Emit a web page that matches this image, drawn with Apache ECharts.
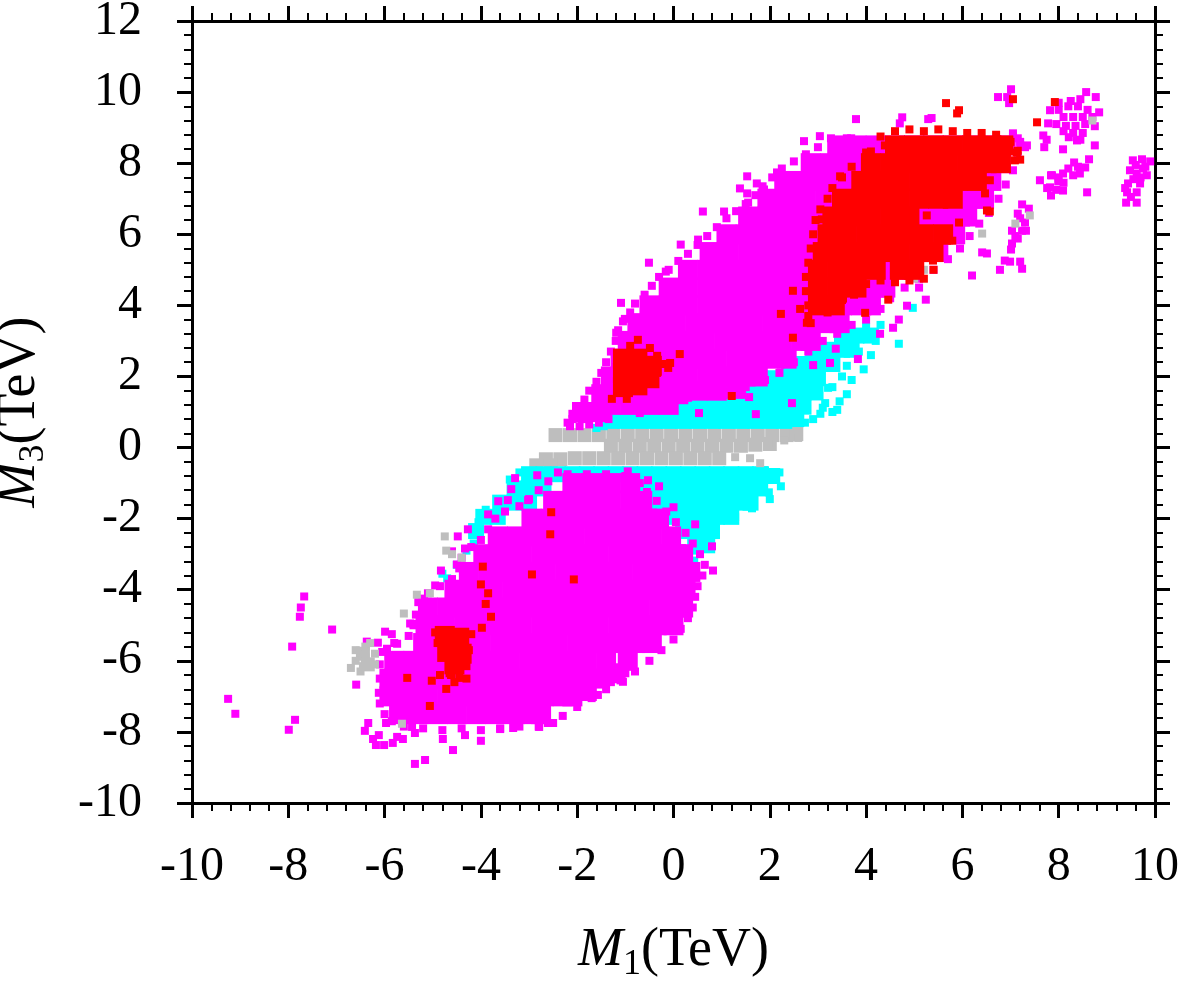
<!DOCTYPE html>
<html>
<head>
<meta charset="UTF-8">
<title>M1 vs M3</title>
<script src="https://cdn.jsdelivr.net/npm/echarts@6/dist/echarts.min.js"></script>
<style>
  html, body { margin: 0; padding: 0; background: #fff; }
  #container { width: 1183px; height: 984px; }
</style>
</head>
<body>
<div id="container"></div>
<script type="text/javascript">
// axis ticks
var xTicks = [-10, -8, -6, -4, -2, 0, 2, 4, 6, 8, 10];
var yTicks = [-10, -8, -6, -4, -2, 0, 2, 4, 6, 8, 10, 12];

// gray points: dense band around M3 = 0
var grayCore = [
  [-2.45,0.35],[-2.15,0.35],[-1.85,0.35],[-1.55,0.35],[-1.25,0.35],[-0.95,0.35],[-0.65,0.35],[-0.35,0.35],[-0.05,0.35],
  [0.25,0.35],[0.55,0.35],[0.85,0.35],[1.15,0.35],[1.45,0.35],[1.75,0.35],[2.05,0.35],[2.35,0.35],[2.55,0.38],
  [-1.3,0.05],[-1.0,0.05],[-0.7,0.05],[-0.4,0.05],[-0.1,0.05],[0.2,0.05],[0.5,0.05],[0.8,0.05],[1.1,0.05],[1.4,0.05],[1.7,0.08],[2.0,0.1],
  [-2.65,-0.33],[-2.35,-0.33],[-2.05,-0.3],[-1.75,-0.3],[-1.45,-0.3],[-1.15,-0.3],[-0.85,-0.3],[-0.55,-0.3],[-0.25,-0.3],
  [0.05,-0.3],[0.35,-0.3],[0.65,-0.3],[0.95,-0.3],
  [-2.85,-0.5],[-2.55,-0.5],
  [-6.45,-5.8],[-6.35,-6.1]
];
// gray scattered points
var grayPts = [
  [1.28,-0.27],[1.59,-0.3],[1.8,-0.44],[2.59,0.27],[1.98,0.1],[2.3,0.2],[2.6,0.45],
  [-6.6,-5.7],[-6.4,-5.6],[-6.6,-6.0],[-6.4,-5.9],[-6.2,-5.8],[-6.7,-6.2],[-6.5,-6.3],[-6.2,-6.1],[-6.3,-5.5],[-6.45,-6.15],
  [-4.72,-2.9],[-4.6,-3.0],[-5.33,-4.14],[-5.06,-4.1],[-5.6,-4.67],[-5.64,-7.77],[-4.75,-2.5],[-4.4,-3.1],
  [6.41,6.02],[7.4,6.53],[7.1,6.3],[5.2,5.0],[5.0,4.75],[8.7,9.2]
];

// cyan points: two bands on each side of the gray band
var cyanCore = [
  [-1.3,0.75],[-1.0,0.75],[-0.7,0.75],[-0.4,0.75],[-0.1,0.75],[0.2,0.75],[0.5,0.75],[0.8,0.75],[1.1,0.75],[1.4,0.75],[1.7,0.75],[2.0,0.75],[2.3,0.75],[2.55,0.8],
  [0.0,1.15],[0.3,1.15],[0.6,1.15],[0.9,1.15],[1.2,1.15],[1.5,1.15],[1.8,1.15],[2.1,1.15],[2.4,1.15],[2.7,1.15],
  [1.2,1.55],[1.5,1.55],[1.8,1.55],[2.1,1.55],[2.4,1.55],[2.7,1.55],[2.95,1.55],
  [1.8,1.95],[2.1,1.95],[2.4,1.95],[2.7,1.95],[3.0,1.95],
  [2.4,2.35],[2.7,2.35],[3.0,2.35],[3.3,2.35],
  [2.9,2.75],[3.2,2.75],[3.5,2.75],[3.7,2.75],
  [3.5,3.15],[3.8,3.15],[4.1,3.15],
  [-3.0,-0.75],[-2.7,-0.75],[-2.4,-0.75],[-2.1,-0.75],[-1.8,-0.75],[-1.5,-0.75],[-1.2,-0.75],[-0.9,-0.75],[-0.6,-0.75],[-0.3,-0.75],
  [0.0,-0.75],[0.3,-0.75],[0.6,-0.75],[0.9,-0.75],[1.2,-0.75],[1.5,-0.75],[1.8,-0.75],[2.05,-0.8],
  [-3.3,-1.15],[-3.0,-1.15],[-2.7,-1.15],[-0.6,-1.15],[-0.3,-1.15],[0.0,-1.15],[0.3,-1.15],[0.6,-1.15],[0.9,-1.15],[1.2,-1.15],[1.5,-1.15],[1.8,-1.15],
  [-3.6,-1.55],[-3.3,-1.55],[-3.0,-1.55],[-0.4,-1.55],[-0.1,-1.55],[0.2,-1.55],[0.5,-1.55],[0.8,-1.55],[1.1,-1.55],[1.4,-1.55],[1.6,-1.55],
  [-3.95,-1.95],[-3.65,-1.95],[0.0,-1.95],[0.3,-1.95],[0.6,-1.95],[0.9,-1.95],[1.2,-1.95],
  [-4.1,-2.35],[0.2,-2.35],[0.5,-2.35],[0.8,-2.35],
  [0.45,-2.75],[0.7,-2.75]
];
var cyanPts = [
  [3.3,1.0],[3.45,1.3],[3.6,1.5],[3.3,1.7],[3.7,1.9],[3.95,2.2],[3.6,2.3],[4.1,2.6],[4.2,3.0],[3.05,0.95],[3.15,1.25],[2.9,0.8],
  [3.1,1.12],[3.4,1.06],[3.21,1.68],[2.73,0.7],[4.97,3.93],[4.68,2.92],[4.3,3.45],[4.0,3.4],[3.85,2.7],[3.5,2.0],[-1.6,0.55],[-1.45,0.6],
  [1.9,-0.64],[1.88,-0.95],[1.67,-1.2],[1.98,-1.26],[2.23,-1.09],[1.63,-1.71],[1.28,-1.96],[0.86,-2.08],[0.8,-2.41],[0.7,-2.7],
  [0.47,-2.9],[0.43,-3.18],[2.1,-0.8],[1.4,-1.5],[2.2,-0.7],[2.0,-1.45],
  [-4.15,-2.7],[-4.3,-2.9],[-4.5,-3.3],[-4.7,-3.68],[-4.8,-3.55],[-3.9,-1.75],[-4.05,-2.1],[-3.4,-0.9],[-3.2,-0.7]
];

// magenta points: two large lobes
var magentaCore = [
  [-1.9,1.0],[-1.5,1.0],
  [-1.3,1.2],[-0.9,1.2],[-0.5,1.2],[-0.1,1.2],
  [-1.5,1.5],[-1.1,1.5],[-0.7,1.5],[-0.3,1.5],[0.1,1.5],
  [0.5,1.6],[0.9,1.6],[1.3,1.65],
  [-1.3,2.0],[-0.9,2.0],[-0.5,2.0],[-0.1,2.0],[0.3,2.0],[0.7,2.0],[1.1,2.0],[1.5,2.0],[1.75,2.0],
  [-1.1,2.5],[-0.7,2.5],[-0.3,2.5],[0.1,2.5],[0.5,2.5],[0.9,2.5],[1.3,2.5],[1.7,2.5],[2.1,2.5],[2.35,2.5],
  [-0.95,3.0],[-0.55,3.0],[-0.15,3.0],[0.25,3.0],[0.65,3.0],[1.05,3.0],[1.45,3.0],[1.85,3.0],[2.25,3.0],[2.65,3.0],[2.85,3.0],
  [-0.75,3.5],[-0.35,3.5],[0.05,3.5],[0.45,3.5],[0.85,3.5],[1.25,3.5],[1.65,3.5],[2.05,3.5],[2.45,3.5],[2.85,3.5],[3.25,3.5],[3.45,3.5],
  [-0.5,4.0],[-0.1,4.0],[0.3,4.0],[0.7,4.0],[1.1,4.0],[1.5,4.0],[1.9,4.0],[2.3,4.0],[2.7,4.0],[3.1,4.0],[3.5,4.0],[3.9,4.0],[4.1,4.0],
  [-0.1,4.5],[0.3,4.5],[0.7,4.5],[1.1,4.5],[1.5,4.5],[1.9,4.5],[2.3,4.5],[2.7,4.5],[3.1,4.5],[3.5,4.5],[3.9,4.5],[4.3,4.5],[4.4,4.5],
  [0.3,5.0],[0.7,5.0],[1.1,5.0],[1.5,5.0],[1.9,5.0],[2.3,5.0],[2.7,5.0],[3.1,5.0],[3.5,5.0],[3.9,5.0],[4.3,5.0],[4.7,5.0],[4.95,5.0],
  [0.75,5.5],[1.15,5.5],[1.55,5.5],[1.95,5.5],[2.35,5.5],[2.75,5.5],[3.15,5.5],[3.55,5.5],[3.95,5.5],[4.35,5.5],[4.75,5.5],[5.15,5.5],[5.5,5.5],
  [1.1,6.0],[1.5,6.0],[1.9,6.0],[2.3,6.0],[2.7,6.0],[3.1,6.0],[3.5,6.0],[3.9,6.0],[4.3,6.0],[4.7,6.0],[5.1,6.0],[5.5,6.0],[5.85,6.0],
  [1.55,6.5],[1.95,6.5],[2.35,6.5],[2.75,6.5],[3.15,6.5],[3.55,6.5],[3.95,6.5],[4.35,6.5],[4.75,6.5],[5.15,6.5],[5.55,6.5],[5.95,6.5],[6.1,6.5],
  [1.95,7.0],[2.35,7.0],[2.75,7.0],[3.15,7.0],[3.55,7.0],[3.95,7.0],[4.35,7.0],[4.75,7.0],[5.15,7.0],[5.55,7.0],[5.95,7.0],[6.35,7.0],[6.45,7.0],
  [2.3,7.5],[2.7,7.5],[3.1,7.5],[3.5,7.5],[3.9,7.5],[4.3,7.5],[4.7,7.5],[5.1,7.5],[5.5,7.5],[5.9,7.5],[6.3,7.5],[6.6,7.5],
  [2.85,8.0],[3.25,8.0],[3.65,8.0],[4.05,8.0],[4.45,8.0],[4.85,8.0],[5.25,8.0],[5.65,8.0],[6.05,8.0],[6.45,8.0],[6.8,8.0],
  [3.4,8.5],[3.8,8.5],[4.2,8.5],[4.6,8.5],[5.0,8.5],[5.4,8.5],[5.8,8.5],[6.2,8.5],[6.6,8.5],[6.9,8.5],
  [-2.1,-1.0],[-1.7,-1.0],[-1.3,-1.0],[-0.9,-1.0],
  [-2.5,-1.5],[-2.1,-1.5],[-1.7,-1.5],[-1.3,-1.5],[-0.9,-1.5],[-0.65,-1.5],
  [-2.95,-2.0],[-2.55,-2.0],[-2.15,-2.0],[-1.75,-2.0],[-1.35,-2.0],[-0.95,-2.0],[-0.55,-2.0],[-0.3,-2.0],
  [-3.65,-2.5],[-3.25,-2.5],[-2.85,-2.5],[-2.45,-2.5],[-2.05,-2.5],[-1.65,-2.5],[-1.25,-2.5],[-0.85,-2.5],[-0.45,-2.5],[-0.05,-2.5],
  [-3.95,-3.0],[-3.55,-3.0],[-3.15,-3.0],[-2.75,-3.0],[-2.35,-3.0],[-1.95,-3.0],[-1.55,-3.0],[-1.15,-3.0],[-0.75,-3.0],[-0.35,-3.0],[0.05,-3.0],[0.2,-3.0],
  [-4.25,-3.5],[-3.85,-3.5],[-3.45,-3.5],[-3.05,-3.5],[-2.65,-3.5],[-2.25,-3.5],[-1.85,-3.5],[-1.45,-3.5],[-1.05,-3.5],[-0.65,-3.5],[-0.25,-3.5],[0.15,-3.5],[0.35,-3.5],
  [-4.55,-4.0],[-4.15,-4.0],[-3.75,-4.0],[-3.35,-4.0],[-2.95,-4.0],[-2.55,-4.0],[-2.15,-4.0],[-1.75,-4.0],[-1.35,-4.0],[-0.95,-4.0],[-0.55,-4.0],[-0.15,-4.0],[0.25,-4.0],
  [-5.1,-4.5],[-4.7,-4.5],[-4.3,-4.5],[-3.9,-4.5],[-3.5,-4.5],[-3.1,-4.5],[-2.7,-4.5],[-2.3,-4.5],[-1.9,-4.5],[-1.5,-4.5],[-1.1,-4.5],[-0.7,-4.5],[-0.3,-4.5],[0.1,-4.5],[0.2,-4.5],
  [-5.15,-5.0],[-4.75,-5.0],[-4.35,-5.0],[-3.95,-5.0],[-3.55,-5.0],[-3.15,-5.0],[-2.75,-5.0],[-2.35,-5.0],[-1.95,-5.0],[-1.55,-5.0],[-1.15,-5.0],[-0.75,-5.0],[-0.35,-5.0],[0.0,-5.0],
  [-5.2,-5.5],[-4.8,-5.5],[-4.4,-5.5],[-4.0,-5.5],[-3.6,-5.5],[-3.2,-5.5],[-2.8,-5.5],[-2.4,-5.5],[-2.0,-5.5],[-1.6,-5.5],[-1.2,-5.5],[-0.8,-5.5],[-0.45,-5.5],
  [-5.8,-6.0],[-5.4,-6.0],[-5.0,-6.0],[-4.6,-6.0],[-4.2,-6.0],[-3.8,-6.0],[-3.4,-6.0],[-3.0,-6.0],[-2.6,-6.0],[-2.2,-6.0],[-1.8,-6.0],[-1.4,-6.0],[-0.95,-6.0],
  [-5.9,-6.5],[-5.5,-6.5],[-5.1,-6.5],[-4.7,-6.5],[-4.3,-6.5],[-3.9,-6.5],[-3.5,-6.5],[-3.1,-6.5],[-2.7,-6.5],[-2.3,-6.5],[-1.9,-6.5],[-1.55,-6.5],[-1.2,-6.35],
  [-5.9,-7.0],[-5.5,-7.0],[-5.1,-7.0],[-4.7,-7.0],[-4.3,-7.0],[-3.9,-7.0],[-3.5,-7.0],[-3.1,-7.0],[-2.7,-7.0],[-2.3,-7.0],[-2.1,-7.0],[-1.8,-6.85],
  [-5.7,-7.5],[-5.3,-7.5],[-4.9,-7.5],[-4.5,-7.5],[-4.1,-7.5],[-3.7,-7.5],[-3.3,-7.5],[-2.9,-7.5],[-2.75,-7.5]
];
// magenta edge and scattered points
var magentaPts = [
  // upper lobe, upper-left edge
  [-2.2,0.7],[-2.1,0.95],[-2.0,1.15],[-1.85,1.35],[-1.75,1.6],[-1.6,1.85],[-1.5,2.1],[-1.4,2.4],[-1.3,2.7],[-1.2,3.0],[-1.15,3.3],
  [-1.05,3.55],[-0.9,3.8],[-0.8,4.05],[-0.6,4.3],[-0.45,4.55],[-0.3,4.8],[-0.1,5.0],[0.1,5.25],[0.3,5.45],[0.5,5.7],[0.7,5.95],
  [0.9,6.2],[1.1,6.45],[1.3,6.65],[1.5,6.85],[1.7,7.1],[1.85,7.35],[2.05,7.6],[2.25,7.85],[2.5,8.05],[2.75,8.25],[3.0,8.45],[3.3,8.6],[3.6,8.7],
  [-2.15,0.6],[-1.95,0.6],[-1.75,0.65],[-1.55,0.7],[-1.35,0.8],[-2.1,0.8],[-1.9,0.8],[-1.7,0.85],[-1.5,0.9],
  // upper lobe, lower-right edge
  [-0.9,1.1],[-0.5,1.15],[-0.1,1.2],[0.3,1.4],[0.7,1.5],[1.1,1.55],[1.5,1.7],[1.9,1.9],[2.2,2.1],[2.5,2.4],[2.8,2.7],[3.1,3.0],
  [3.4,3.2],[3.7,3.45],[4.0,3.6],[4.3,3.9],[4.5,4.2],[4.8,4.5],[5.1,4.75],[5.4,5.0],[5.7,5.3],[5.95,5.6],[6.15,5.95],[6.35,6.3],
  [6.55,6.6],[6.75,7.0],[6.9,7.4],[7.05,7.8],[7.15,8.2],[7.2,8.5],[7.05,8.75],
  // upper scattered
  [7.01,10.08],[6.74,9.86],[6.93,9.86],[6.97,9.69],[3.79,9.24],[4.75,9.29],[4.7,9.12],[5.29,9.24],[5.36,9.27],[2.71,8.62],[3.04,8.76],
  [3.27,8.7],[3.69,8.7],[3.94,8.45],[1.53,7.63],[1.38,7.29],[1.53,7.15],[1.73,7.43],[1.88,7.26],[1.55,6.89],[2.15,7.74],[0.61,6.64],
  [1.05,6.64],[0.51,5.85],[0.15,5.71],[-0.51,5.2],[-0.16,4.95],[-1.09,4.07],[-1.19,3.23],[-1.01,3.62],
  [7.05,8.84],[7.2,8.6],[7.3,8.45],[7.15,8.7],[7.34,8.5],
  [5.1,4.5],[5.24,4.16],[4.85,3.99],[4.56,3.37],[4.68,3.6],[4.29,3.2],
  [1.71,0.94],[2.46,1.25],[1.57,1.42],[3.37,2.78],[2.9,2.32],[3.83,2.49],[3.25,2.38],[-0.7,0.97],[0.53,0.97],
  // cluster near (8.3, 9.3)
  [8.57,10.0],[8.77,9.86],[8.84,9.43],[8.75,9.04],[8.75,8.5],[7.82,9.49],[7.78,9.12],[8.38,8.64],[8.21,8.73],[8.45,8.66],[7.68,8.78],
  [7.75,8.66],[7.7,8.45],[8.09,8.39],[8.0,9.5],[8.2,9.6],[8.4,9.6],[8.6,9.5],[8.1,9.3],[8.3,9.3],[8.5,9.3],[8.7,9.3],[7.95,9.1],
  [8.15,9.05],[8.35,9.05],[8.55,9.1],[8.3,8.85],[8.1,8.9],[8.5,8.85],[8.0,9.7],[8.45,9.8],[8.25,9.75],
  // cluster near (8.1, 7.6)
  [8.63,8.11],[8.32,8.02],[8.55,7.88],[8.44,7.71],[8.3,7.66],[8.09,7.71],[7.84,7.66],[7.99,7.49],[7.82,7.32],[7.76,7.3],[8.09,7.23],
  [7.84,7.09],[7.61,7.52],[8.59,7.18],[8.1,7.45],[8.2,7.85],[8.4,7.9],[7.95,7.25],[8.0,7.6],[7.86,7.66],
  // cluster near (9.6, 7.5)
  [9.54,8.08],[9.73,8.11],[9.9,8.05],[9.83,7.66],[9.62,7.71],[9.48,7.8],[9.44,7.43],[9.69,7.43],[9.62,7.18],[9.42,7.18],[9.4,6.89],
  [9.62,6.89],[9.38,7.3],[9.55,7.55],[9.75,7.85],[9.6,7.95],[9.5,7.05],[9.7,7.6],[9.8,7.9],
  // cluster near (7.1, 5.9)
  [7.24,6.84],[7.38,6.72],[7.15,6.58],[7.3,6.33],[7.24,6.1],[7.32,6.1],[7.03,6.1],[7.15,5.88],[7.03,5.74],[7.01,5.57],[6.88,5.26],
  [6.99,5.23],[7.2,5.23],[7.24,5.03],[6.78,5.0],[6.51,5.46],[6.41,5.49],[6.2,4.84],[7.2,6.45],[7.1,5.95],
  // lower lobe, upper-left edge
  [-2.4,-0.7],[-2.6,-0.95],[-2.8,-1.2],[-3.0,-1.45],[-3.2,-1.65],[-3.5,-1.8],[-3.7,-2.0],[-3.85,-2.3],[-4.0,-2.6],[-4.2,-2.8],
  [-4.4,-3.1],[-4.45,-3.4],[-4.6,-3.7],[-4.85,-3.9],[-5.1,-4.1],[-5.3,-4.35],[-5.35,-4.7],[-5.4,-5.0],[-5.5,-5.3],[-5.8,-5.5],
  [-6.05,-5.75],[-6.1,-6.1],[-6.1,-6.5],[-6.12,-6.9],[-6.1,-7.2],[-6.0,-7.5],[-5.85,-7.7],
  // lower lobe, bottom and right edge
  [-5.6,-7.85],[-5.2,-7.9],[-4.8,-7.95],[-4.4,-7.9],[-4.0,-7.95],[-3.6,-7.9],[-3.2,-7.85],[-2.8,-7.85],[-2.5,-7.75],[-2.3,-7.55],
  [-2.0,-7.3],[-1.7,-7.05],[-1.4,-6.8],[-1.1,-6.55],[-0.8,-6.3],[-0.5,-6.0],[-0.25,-5.7],[0.0,-5.4],[0.15,-5.1],[0.3,-4.8],
  [0.4,-4.5],[0.45,-4.2],[0.5,-3.9],[0.6,-3.6],[0.65,-3.3],[0.55,-3.0],[0.4,-2.7],[0.25,-2.4],[0.05,-2.1],[-0.15,-1.8],
  [-0.35,-1.5],[-0.55,-1.25],[-0.7,-1.0],
  [-2.2,-0.75],[-1.8,-0.75],[-1.4,-0.75],[-1.0,-0.8],
  // lower scattered
  [-9.25,-7.07],[-9.1,-7.49],[-7.67,-4.19],[-7.74,-4.5],[-7.76,-4.76],[-7.09,-5.12],[-7.92,-5.6],[-7.86,-7.66],[-7.99,-7.94],
  [-6.59,-6.67],[-6.34,-7.75],[-6.41,-7.97],[-6.24,-8.2],[-6.18,-8.37],[-6.01,-8.37],[-5.97,-7.75],[-6.12,-8.09],[-5.83,-8.31],
  [-5.74,-8.14],[-5.62,-8.2],[-5.43,-7.86],[-5.37,-8.03],[-5.37,-8.9],[-5.16,-8.79],[-4.58,-8.51],[-4.0,-8.25],[-4.33,-8.09],
  [-4.79,-8.2],[-3.6,-7.92],[-3.33,-7.89],[-2.79,-7.86],[-2.61,-7.75],[-1.57,-6.96],[-1.05,-6.59],[0.82,-3.46],[0.8,-2.78],
  [-6.37,-5.46],[-6.14,-5.49],[-5.99,-5.18],[-5.85,-5.25],[-5.74,-5.52],[-5.95,-5.66],[-5.47,-4.95],[-5.4,-4.96],[-5.18,-4.25],
  [-4.95,-3.88],[-4.83,-3.46],[-4.6,-2.92],[-4.5,-3.29],[-4.33,-2.84],
  [-3.29,-0.86],[-2.83,-0.78],[-3.37,-1.17],[-3.44,-1.48],[-3.02,-1.48],[-3.64,-1.51],[-3.85,-1.88],[-4.27,-2.3],[-4.48,-2.5],
  [-0.53,-0.92],[-0.3,-1.09],[-0.95,-0.67],[-1.28,-0.86],[0.0,-1.68],[0.45,-2.16],
  [-1.3,-6.6],[-1.0,-6.35]
];

// red points: upper-right core and a few clusters
var redCore = [
  [4.6,8.5],[5.0,8.5],[5.4,8.5],[5.8,8.5],[6.2,8.5],[6.6,8.5],[6.85,8.5],
  [4.1,8.0],[4.5,8.0],[4.9,8.0],[5.3,8.0],[5.7,8.0],[6.1,8.0],[6.5,8.0],[6.8,8.0],
  [3.9,7.5],[4.3,7.5],[4.7,7.5],[5.1,7.5],[5.5,7.5],[5.9,7.5],[6.3,7.5],
  [3.5,7.0],[3.9,7.0],[4.3,7.0],[4.7,7.0],[5.1,7.0],[5.5,7.0],[5.8,7.0],
  [3.3,6.5],[3.7,6.5],[4.1,6.5],[4.5,6.5],[4.9,6.5],
  [3.2,6.0],[3.6,6.0],[4.0,6.0],[4.4,6.0],[4.8,6.0],[5.2,6.0],[5.6,6.0],
  [3.1,5.5],[3.5,5.5],[3.9,5.5],[4.3,5.5],[4.7,5.5],[5.1,5.5],[5.4,5.5],
  [3.0,5.0],[3.4,5.0],[3.8,5.0],[4.2,5.0],[4.7,5.0],[5.0,5.0],
  [3.0,4.5],[3.4,4.5],[3.8,4.5],
  [3.0,4.0],[3.35,4.0],
  [-1.05,2.5],[-0.75,2.5],[-1.05,2.1],[-0.75,2.1],[-0.45,2.3],[-1.05,1.7],[-0.75,1.75],[-0.5,1.95],
  [-4.75,-5.3],[-4.45,-5.35],[-4.7,-5.75],[-4.4,-5.8],[-4.55,-6.1]
];
var redPts = [
  [4.3,8.75],[4.6,8.9],[4.9,8.95],[5.2,8.9],[5.5,8.95],[5.8,8.9],[6.1,8.85],[6.4,8.85],[6.7,8.8],[7.0,8.6],[7.15,8.35],[7.2,8.1],
  [4.0,8.3],[3.7,7.9],[3.5,7.6],[3.3,7.3],[3.2,7.0],[3.05,6.7],[2.95,6.4],[2.9,6.0],[2.85,5.6],[2.8,5.2],[2.75,4.8],[2.75,4.4],
  [2.8,4.0],[2.8,3.7],[2.85,3.5],[3.2,3.8],[3.5,4.15],[3.75,4.3],[4.0,4.6],[4.3,4.7],[4.6,4.65],[4.9,4.7],[5.2,4.75],[5.4,5.0],
  [7.05,9.8],[7.92,9.72],[7.55,9.15],[5.93,9.49],[5.89,9.4],[5.66,9.69],[4.1,8.33],[4.39,8.5],[4.6,8.62],[3.46,7.63],[1.21,1.45],
  [2.48,3.09],[2.23,3.76],[2.63,3.9],[2.48,4.41],[2.77,3.51],[3.08,6.08],[3.08,6.42],[3.98,3.79],[4.46,4.16],[6.51,6.67],[6.57,7.52],
  [6.47,7.15],[6.93,8.64],[7.13,8.3],[7.09,8.08],[4.54,5.46],[5.39,5.26],[5.68,5.82],[5.26,6.53],[5.93,6.33],[6.57,6.64],[5.79,5.82],
  [3.52,4.19],[3.71,4.36],
  [-0.74,3.03],[-0.9,2.86],[-0.49,2.8],[-0.94,2.63],[-0.34,2.58],[-0.22,2.35],[-0.07,2.38],[-0.11,2.24],[0.13,2.63],[-0.34,2.1],
  [-1.11,2.24],[-0.7,2.16],[-0.97,1.96],[-0.63,1.82],[-1.15,1.68],[-0.84,1.59],[-1.28,1.37],[-0.97,1.37],
  [-3.96,-3.35],[-2.94,-3.57],[-2.07,-3.71],[-4.0,-3.85],[-3.85,-4.1],[-3.9,-4.4],[-3.79,-4.76],[-3.98,-5.07],[-5.53,-6.48],
  [-5.02,-6.56],[-4.72,-6.79],[-4.45,-6.48],[-4.62,-6.4],[-5.06,-7.27],[-2.54,-1.82],[-2.56,-2.44],[-4.95,-5.2],[-4.9,-5.5],
  [-4.2,-5.25],[-4.25,-5.7],[-4.3,-6.15],[-4.65,-6.35],[-4.85,-6.4],[-4.3,-6.5],[-4.55,-6.6]
];

var serif = 'Liberation Serif';

function axisSide(pos, showLabel) {
  return {
    type: 'value',
    position: pos,
    axisLine: { show: true, onZero: false, lineStyle: { color: '#000', width: 3 } },
    axisTick: { show: true, inside: false, length: 15, lineStyle: { color: '#000', width: 3 } },
    minorTick: { show: true, splitNumber: 5, length: 8, lineStyle: { color: '#000', width: 2 } },
    splitLine: { show: false },
    axisLabel: { show: showLabel, color: '#000', fontFamily: serif, fontSize: 48 }
  };
}

var nameRich = {
  i: { fontFamily: serif, fontStyle: 'italic', fontSize: 54, lineHeight: 64, color: '#000' },
  s: { fontFamily: serif, fontSize: 36, lineHeight: 36, verticalAlign: 'bottom', color: '#000' },
  t: { fontFamily: serif, fontSize: 54, lineHeight: 64, color: '#000' }
};

var xBottom = axisSide('bottom', true);
xBottom.min = xTicks[0];
xBottom.max = xTicks[xTicks.length - 1];
xBottom.interval = 2;
xBottom.axisLabel.margin = 40;
xBottom.name = '{i|M}{s|1}{t|(TeV)}';
xBottom.nameLocation = 'middle';
xBottom.nameGap = 116;
xBottom.nameTextStyle = { rich: nameRich };

var xTop = axisSide('top', false);
xTop.min = xTicks[0];
xTop.max = xTicks[xTicks.length - 1];
xTop.interval = 2;

var yLeft = axisSide('left', true);
yLeft.min = yTicks[0];
yLeft.max = yTicks[yTicks.length - 1];
yLeft.interval = 2;
yLeft.axisLabel.margin = 50;
yLeft.name = '{i|M}{s|3}{t|(TeV)}';
yLeft.nameLocation = 'middle';
yLeft.nameGap = 140;
yLeft.nameTextStyle = { rich: nameRich };

var yRight = axisSide('right', false);
yRight.min = yTicks[0];
yRight.max = yTicks[yTicks.length - 1];
yRight.interval = 2;

function pts(name, data, color, size) {
  return {
    name: name,
    type: 'scatter',
    xAxisIndex: 0,
    yAxisIndex: 0,
    data: data,
    symbol: 'rect',
    symbolSize: size,
    itemStyle: { color: color, opacity: 1 },
    emphasis: { disabled: true },
    silent: true
  };
}

var myChart = echarts.init(document.getElementById('container'), null, { renderer: 'canvas' });
var option = {
  animation: false,
  backgroundColor: '#fff',
  grid: { left: 192, right: 28, top: 21, bottom: 181, containLabel: false, outerBoundsMode: 'none' },
  xAxis: [xBottom, xTop],
  yAxis: [yLeft, yRight],
  series: [
    pts('gray', grayCore, '#bebebe', 14),
    pts('cyan', cyanCore, '#00ffff', 16),
    pts('cyan', cyanPts, '#00ffff', 8),
    pts('magenta', magentaCore, '#ff00ff', 20),
    pts('magenta', magentaPts, '#ff00ff', 8),
    pts('gray', grayPts, '#bebebe', 8),
    pts('red', redCore, '#ff0000', 20),
    pts('red', redPts, '#ff0000', 8)
  ]
};
myChart.setOption(option);
</script>
</body>
</html>
